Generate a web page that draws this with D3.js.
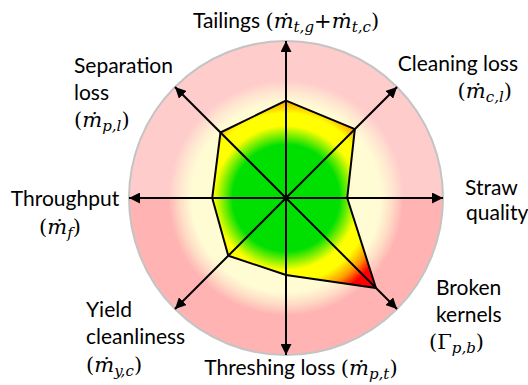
<!DOCTYPE html>
<html>
<head>
<meta charset="utf-8">
<script src="https://cdn.jsdelivr.net/npm/d3@7/dist/d3.min.js"></script>
<style>
html,body{margin:0;padding:0;background:#fff;}
svg{display:block;}
.sans{font-family:"Lato","Open Sans",sans-serif;}
</style>
</head>
<body>
<svg id="chart" width="528" height="385"></svg>
<script>
// ---- data ----
const categories = ["Tailings", "Cleaning loss", "Straw quality", "Broken kernels",
                    "Threshing loss", "Yield cleanliness", "Throughput", "Separation loss"];
const values = [0.62, 0.62, 0.39, 0.81, 0.49, 0.52, 0.47, 0.59];
// math symbols: [base, subscript]
const symbolParts = [
  [["ṁ","t,g"],["+"],["ṁ","t,c"]],
  [["ṁ","c,l"]],
  [],
  [["Γ","p,b"]],
  [["ṁ","p,t"]],
  [["ṁ","y,c"]],
  [["ṁ","f"]],
  [["ṁ","p,l"]]
];

// ---- layout ----
const W = 528, H = 385, cx = 286, cy = 198, R = 157;
const svg = d3.select("#chart");
const g = svg.append("g").attr("transform", `translate(${cx},${cy})`);

const ang = c => categories.indexOf(c) * 2*Math.PI / categories.length;
const r = d3.scaleLinear().domain([0, 1]).range([0, R]);

const defs = svg.append("defs");
// polygon gradient
const pg = defs.append("radialGradient").attr("id","polyGrad")
  .attr("gradientUnits","userSpaceOnUse").attr("cx",0).attr("cy",0).attr("r",R);
[[0,"#00e000"],[0.34,"#00e000"],[0.46,"#ffff00"],[0.54,"#ffff00"],[0.62,"#ff9a00"],[0.69,"#ff0000"],[1,"#ff0000"]]
  .forEach(([o,c])=>pg.append("stop").attr("offset",o).attr("stop-color",c));
// cream overlay gradient
const cg = defs.append("radialGradient").attr("id","creamGrad")
  .attr("gradientUnits","userSpaceOnUse").attr("cx",0).attr("cy",0).attr("r",R);
[[0,1],[0.6,1],[0.67,0.6],[0.75,0]].forEach(([o,a])=>cg.append("stop").attr("offset",o)
  .attr("stop-color","#fffcd4").attr("stop-opacity",a));
// arrow marker
defs.append("marker").attr("id","arrow").attr("viewBox","0 0 10 10")
  .attr("refX",10).attr("refY",5).attr("markerWidth",5.5).attr("markerHeight",5.5)
  .attr("markerUnits","strokeWidth").attr("orient","auto")
  .append("path").attr("d","M0,0 L10,5 L0,10 z").attr("fill","#000");

// background halves
const arcTop = d3.arc().innerRadius(0).outerRadius(R).startAngle(-Math.PI/2).endAngle(Math.PI/2);
const arcBot = d3.arc().innerRadius(0).outerRadius(R).startAngle(Math.PI/2).endAngle(3*Math.PI/2);
g.append("path").attr("d", arcTop()).attr("fill","#ffcccc");
g.append("path").attr("d", arcBot()).attr("fill","#ffb3b3");
g.append("circle").attr("r",R).attr("fill","url(#creamGrad)");
g.append("circle").attr("r",R).attr("fill","none").attr("stroke","#c4c4c4").attr("stroke-width",2);

// polygon
const radial = d3.lineRadial().angle((d,i)=>ang(categories[i])).radius(d=>r(d)).curve(d3.curveLinearClosed);
g.append("path").attr("d", radial(values)).attr("fill","url(#polyGrad)")
  .attr("stroke","#000").attr("stroke-width",2).attr("stroke-linejoin","miter");

// axes
categories.forEach(c=>{
  const a = ang(c);
  g.append("line").attr("x1",0).attr("y1",0)
    .attr("x2", r(1)*Math.sin(a)).attr("y2", -r(1)*Math.cos(a))
    .attr("stroke","#000").attr("stroke-width",2).attr("marker-end","url(#arrow)");
});

// ---- labels ----
const FS = 21, MS = 21, SS = 15;
const labelLayout = [
  {anchor:"middle", lines:[{x:286,y:28,words:"Tailings",sym:true,space:true}]},
  {anchor:"end", lines:[{x:518,y:71,words:"Cleaning loss"},{x:512,y:98,sym:true}]},
  {anchor:"start", lines:[{x:465,y:195,words:"Straw"},{x:466,y:220,words:"quality"}]},
  {anchor:"start", lines:[{x:436,y:295,words:"Broken"},{x:436,y:322,words:"kernels"},{x:429,y:349,sym:true}]},
  {anchor:"middle", lines:[{x:301,y:375,words:"Threshing loss",sym:true,space:true}]},
  {anchor:"start", lines:[{x:86,y:317,words:"Yield"},{x:86,y:344,words:"cleanliness"},{x:86,y:372,sym:true}]},
  {anchor:"middle", lines:[{x:65,y:206,words:"Throughput"},{x:60,y:234,sym:true}]},
  {anchor:"start", lines:[{x:74,y:73,words:"Separation"},{x:74,y:100,words:"loss"},{x:74,y:127,sym:true}]}
];

labelLayout.forEach((L,i)=>{
  L.lines.forEach(ln=>{
    const t = svg.append("text").attr("x",ln.x).attr("y",ln.y)
      .attr("text-anchor",L.anchor).attr("font-size",FS).attr("fill","#000");
    if (ln.words) t.append("tspan").attr("class","sans").text(ln.words + (ln.space?" ":""));
    if (ln.sym) {
      const serif = '"DejaVu Serif","Liberation Serif",serif';
      t.append("tspan").attr("font-family",serif).attr("font-size",MS).text("(");
      symbolParts[i].forEach(p=>{
        if (p.length===1) {
          t.append("tspan").attr("font-family",serif).attr("font-size",MS).text(p[0]);
        } else {
          t.append("tspan").attr("font-family",serif).attr("font-size",MS)
            .attr("font-style", p[0]==="Γ" ? "normal" : "italic").text(p[0]);
          t.append("tspan").attr("font-family",serif).attr("font-style","italic")
            .attr("font-size",SS).attr("dy",4).text(p[1]);
          t.append("tspan").attr("font-size",1).attr("dy",-4).text("\u200a");
        }
      });
      t.append("tspan").attr("font-family",serif).attr("font-size",MS).text(")");
    }
  });
});
</script>
</body>
</html>
